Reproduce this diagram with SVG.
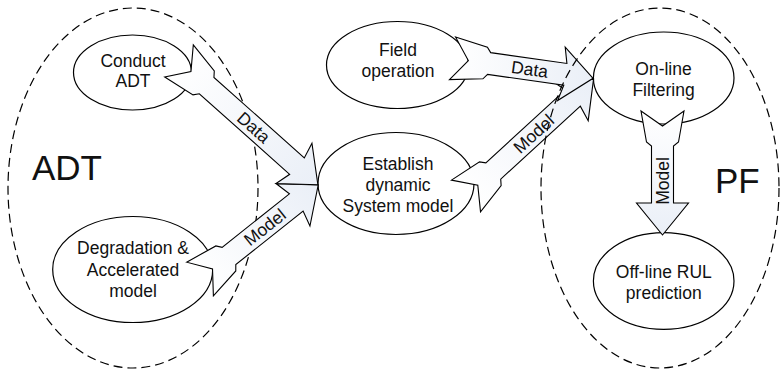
<svg xmlns="http://www.w3.org/2000/svg" width="780" height="374" viewBox="0 0 780 374">
  <defs>
    <!-- light fill that deepens towards the arrow head -->
    <linearGradient id="arrowFill" x1="0" y1="0" x2="1" y2="0">
      <stop offset="0" stop-color="#ffffff"/>
      <stop offset="1" stop-color="#eaeff7"/>
    </linearGradient>
    <style>
      .region { fill: none; stroke: #000; stroke-width: 1.2; stroke-dasharray: 9 5; }
      .node { fill: #fff; stroke: #000; stroke-width: 1.2; }
      .arrow { fill: url(#arrowFill); stroke: #000; stroke-width: 1.1; stroke-linejoin: miter; }
      text { font-family: "Liberation Sans", Arial, sans-serif; fill: #111; text-anchor: middle; }
      .lbl { font-size: 17.5px; }
      .big { font-size: 35px; text-anchor: start; }
    </style>
  </defs>

  <!-- ADT region -->
  <g id="region-adt">
    <ellipse class="region" cx="133" cy="188" rx="125" ry="180"/>
    <text class="big" x="32" y="180">ADT</text>
  </g>

  <g id="node-conduct-adt">
    <ellipse class="node" cx="132.5" cy="72.5" rx="59" ry="37.5"/>
    <text class="lbl" x="133" y="66.7">Conduct</text>
    <text class="lbl" x="133" y="87.3">ADT</text>
  </g>

  <g id="node-degradation">
    <ellipse class="node" cx="132.7" cy="269.5" rx="80" ry="53"/>
    <text class="lbl" x="133" y="254">Degradation &amp;</text>
    <text class="lbl" x="133" y="275.5">Accelerated</text>
    <text class="lbl" x="133" y="297">model</text>
  </g>

  <g id="node-field-operation">
    <ellipse class="node" cx="397.5" cy="65" rx="71" ry="43.5"/>
    <text class="lbl" x="398" y="56">Field</text>
    <text class="lbl" x="398" y="77.3">operation</text>
  </g>

  <g id="node-establish">
    <ellipse class="node" cx="396" cy="183.5" rx="78" ry="51"/>
    <text class="lbl" x="398" y="170">Establish</text>
    <text class="lbl" x="398" y="191">dynamic</text>
    <text class="lbl" x="398" y="212">System model</text>
  </g>

  <g id="node-online-filtering">
    <ellipse class="node" cx="663.7" cy="78" rx="70.3" ry="46"/>
    <text class="lbl" x="663.5" y="75">On-line</text>
    <text class="lbl" x="663.5" y="95.5">Filtering</text>
  </g>

  <g id="node-offline-rul">
    <ellipse class="node" cx="663.7" cy="281" rx="70.3" ry="48.3"/>
    <text class="lbl" x="663.8" y="278.3">Off-line RUL</text>
    <text class="lbl" x="663.8" y="298.5">prediction</text>
  </g>

  <!-- block arrows: notched tail, fletched section, shaft, head -->
  <g id="connectors">
    <g transform="translate(466,196) rotate(-42.5)">
      <path class="arrow" d="M0,-21.5 L33,-16 L37,-11 L145,-11 L141,-27 L173,0 L141,27 L145,11 L37,11 L33,16 L0,21.5 L16,0 Z"/>
      <text class="lbl" x="92" y="6">Model</text>
    </g>
    <g transform="translate(452.5,58.3) rotate(8.1)">
      <path class="arrow" d="M0,-21.5 L33,-16 L37,-11 L114,-11 L110,-27 L142,0 L110,27 L114,11 L37,11 L33,16 L0,21.5 L16,0 Z"/>
      <text class="lbl" x="78" y="6">Data</text>
    </g>
    <g transform="translate(200,279) rotate(-38.5)">
      <path class="arrow" d="M0,-21.5 L33,-16 L37,-11 L123,-11 L119,-27 L151,0 L119,27 L123,11 L37,11 L33,16 L0,21.5 L16,0 Z"/>
      <text class="lbl" x="83" y="6">Model</text>
    </g>
    <g transform="translate(179,61) rotate(41.7)">
      <path class="arrow" d="M0,-21.5 L33,-16 L37,-11 L158,-11 L154,-27 L186,0 L154,27 L158,11 L37,11 L33,16 L0,21.5 L16,0 Z"/>
      <text class="lbl" x="100" y="6">Data</text>
    </g>
    <g transform="translate(662.5,111) rotate(90)">
      <path class="arrow" d="M0,-21.5 L31,-16 L35,-11 L92,-11 L92,-26 L124,0 L92,26 L92,11 L35,11 L31,16 L0,21.5 L15,0 Z"/>
      <text class="lbl" transform="translate(70,0) rotate(180)" x="0" y="6">Model</text>
    </g>
  </g>

  <!-- PF region -->
  <g id="region-pf">
    <ellipse class="region" cx="660" cy="188" rx="119" ry="180"/>
    <text class="big" x="715" y="193">PF</text>
  </g>
</svg>
